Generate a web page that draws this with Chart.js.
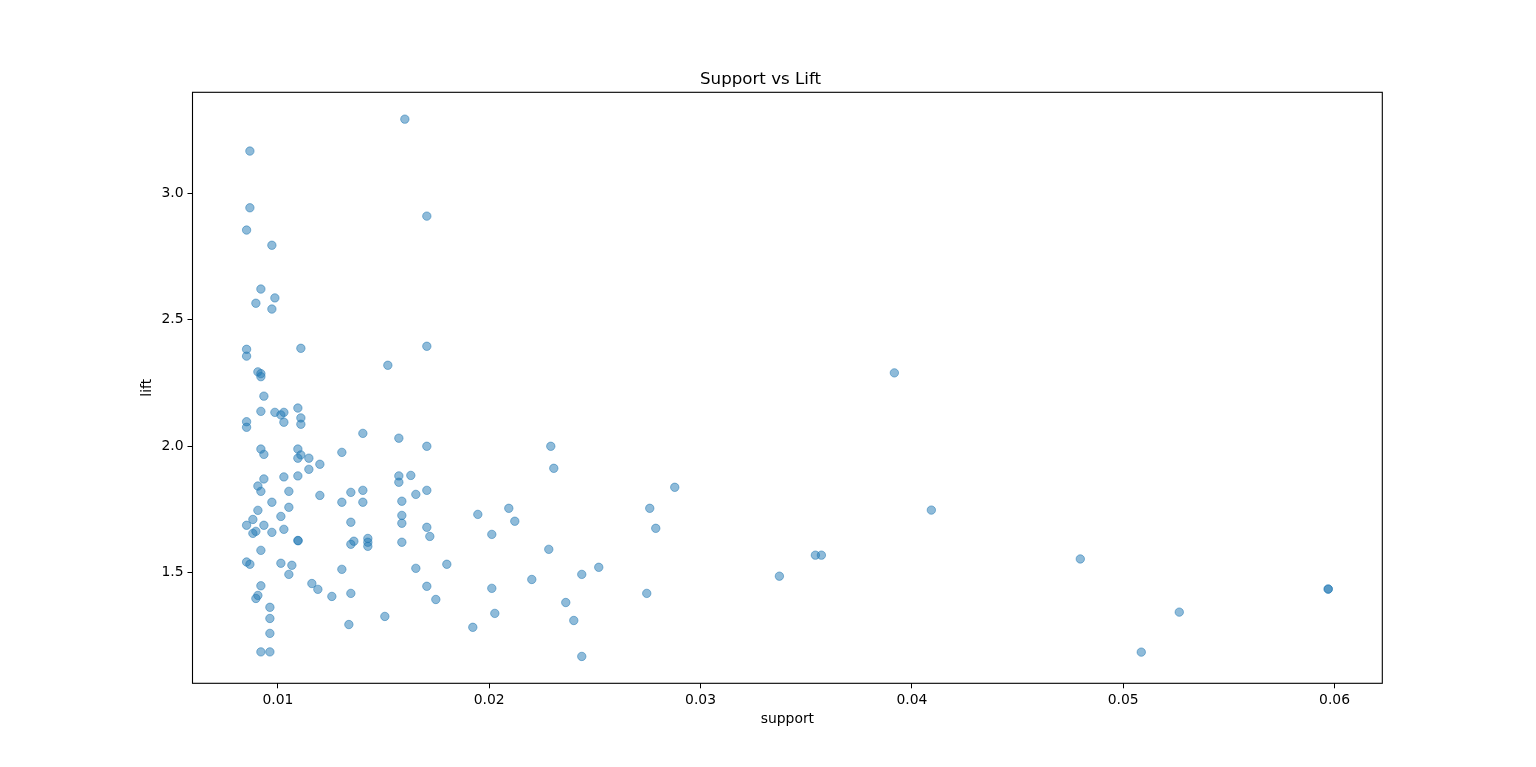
<!DOCTYPE html>
<html>
<head>
<meta charset="utf-8">
<script src="https://cdn.jsdelivr.net/npm/chart.js@4"></script>
<style>
html,body{margin:0;padding:0;background:#fff;}
#wrap{width:1536px;height:767px;}
</style>
</head>
<body>
<div id="wrap"><canvas id="c" width="1536" height="767"></canvas></div>
<script>
const support = [
0.008675,0.008675,0.008519,0.009716,0.009196,0.009858,0.008959,0.009716,0.008519,0.008519,
0.011088,0.009054,0.009196,0.009196,0.009338,0.009196,0.009858,0.010284,0.010142,0.010284,
0.010946,0.011088,0.011088,0.008519,0.008519,0.009196,0.009338,0.010946,0.011088,0.010946,
0.011466,0.011987,0.011466,0.013027,0.009338,0.010284,0.010946,0.009054,0.009196,0.010520,
0.011987,0.013027,0.009716,0.009054,0.010520,0.010142,0.008817,0.008519,0.009338,0.008817,
0.008959,0.009716,0.010284,0.010946,0.010960,0.009196,0.008519,0.008675,0.010142,0.010662,
0.010520,0.013027,0.011608,0.011892,0.012554,0.009196,0.009054,0.008959,0.009622,0.009622,
0.009622,0.009196,0.009622,0.013359,0.016008,0.017048,0.017048,0.015203,0.014021,0.015724,
0.017048,0.015724,0.015724,0.016291,0.013453,0.014021,0.016528,0.017048,0.014021,0.015866,
0.015866,0.015866,0.013453,0.017048,0.017190,0.013595,0.013453,0.014257,0.014257,0.014257,
0.015866,0.016528,0.017994,0.017048,0.017474,0.013453,0.015061,0.022914,0.023056,0.028780,
0.027597,0.027881,0.019461,0.020927,0.021211,0.020123,0.022819,0.025184,0.024380,0.022015,
0.020123,0.027455,0.023623,0.020265,0.024002,0.019224,0.024380,0.033732,0.035435,0.035719,
0.039172,0.040922,0.047971,0.050856,0.052654,0.059702,0.059702
];
const lift = [
3.166,2.942,2.854,2.794,2.621,2.586,2.565,2.542,2.383,2.356,
2.387,2.294,2.287,2.275,2.198,2.138,2.134,2.134,2.124,2.095,
2.151,2.112,2.087,2.097,2.075,1.989,1.968,1.989,1.966,1.953,
1.953,1.929,1.909,1.976,1.871,1.879,1.883,1.843,1.822,1.822,
1.806,1.779,1.779,1.747,1.759,1.723,1.711,1.688,1.688,1.656,
1.664,1.660,1.672,1.628,1.627,1.589,1.543,1.534,1.538,1.530,
1.494,1.514,1.458,1.435,1.407,1.449,1.411,1.399,1.364,1.320,
1.261,1.188,1.188,1.296,3.292,2.909,2.395,2.320,2.051,2.032,
2.000,1.883,1.858,1.885,1.818,1.826,1.810,1.826,1.779,1.783,
1.727,1.696,1.700,1.680,1.644,1.625,1.613,1.636,1.621,1.605,
1.621,1.518,1.534,1.447,1.395,1.419,1.328,2.000,1.913,1.838,
1.755,1.676,1.731,1.755,1.704,1.652,1.593,1.522,1.494,1.474,
1.439,1.419,1.383,1.340,1.312,1.285,1.170,1.487,1.570,1.570,
2.290,1.748,1.555,1.187,1.345,1.436,1.436
];
const xTicks = [0.01, 0.02, 0.03, 0.04, 0.05, 0.06];
const yTicks = [1.5, 2.0, 2.5, 3.0];
const titleText = 'Support vs Lift';
const xLabel = 'support';
const yLabel = 'lift';

const points = support.map((s, i) => ({x: s, y: lift[i]}));

function padLimits(arr) {
  const mn = Math.min(...arr), mx = Math.max(...arr);
  const m = (mx - mn) * 0.05;
  return [mn - m, mx + m];
}
const [xMin, xMax] = padLimits(support);
const [yMin, yMax] = padLimits(lift);

const FONT = 'DejaVu Sans';

const framePlugin = {
  id: 'frame',
  afterDatasetsDraw(chart) {
    const a = chart.chartArea, ctx = chart.ctx;
    ctx.save();
    ctx.strokeStyle = '#000';
    ctx.lineWidth = 1.1;
    ctx.strokeRect(a.left, a.top, a.right - a.left, a.bottom - a.top);
    ctx.restore();
  }
};

new Chart(document.getElementById('c'), {
  type: 'scatter',
  data: {
    datasets: [{
      data: points,
      backgroundColor: 'rgba(31,119,180,0.5)',
      borderColor: 'rgba(31,119,180,0.5)',
      borderWidth: 1,
      pointRadius: 4.2,
      pointHoverRadius: 4.2
    }]
  },
  options: {
    responsive: false,
    animation: false,
    devicePixelRatio: 1,
    layout: { padding: { left: 138.7, right: 153.7, top: 0, bottom: 39.7 } },
    plugins: {
      legend: { display: false },
      tooltip: { enabled: false },
      title: {
        display: true,
        text: titleText,
        color: '#000',
        font: { family: FONT, size: 16.67, weight: 'normal', lineHeight: 1.2 },
        padding: { top: 70, bottom: 2.3 }
      }
    },
    scales: {
      x: {
        type: 'linear',
        min: xMin, max: xMax,
        afterBuildTicks(scale) { scale.ticks = xTicks.map(v => ({value: v})); },
        afterFit(scale) { scale.height = 44; },
        grid: { display: true, drawOnChartArea: false, drawTicks: true, tickLength: 5, color: '#000', lineWidth: 1 },
        border: { display: false },
        ticks: {
          color: '#000', padding: 4,
          font: { family: FONT, size: 13.9 },
          callback: v => v.toFixed(2),
          maxRotation: 0, autoSkip: false
        },
        title: { display: true, text: xLabel, color: '#000', padding: 0, font: { family: FONT, size: 13.9 } }
      },
      y: {
        type: 'linear',
        min: yMin, max: yMax,
        afterBuildTicks(scale) { scale.ticks = yTicks.map(v => ({value: v})); },
        afterFit(scale) { scale.width = 53.8; },
        grid: { display: true, drawOnChartArea: false, drawTicks: true, tickLength: 5, color: '#000', lineWidth: 1 },
        border: { display: false },
        ticks: {
          color: '#000', padding: 4,
          font: { family: FONT, size: 13.9 },
          callback: v => v.toFixed(1),
          autoSkip: false
        },
        title: { display: true, text: yLabel, color: '#000', padding: 0, font: { family: FONT, size: 13.9 } }
      }
    }
  },
  plugins: [framePlugin]
});
</script>
</body>
</html>
